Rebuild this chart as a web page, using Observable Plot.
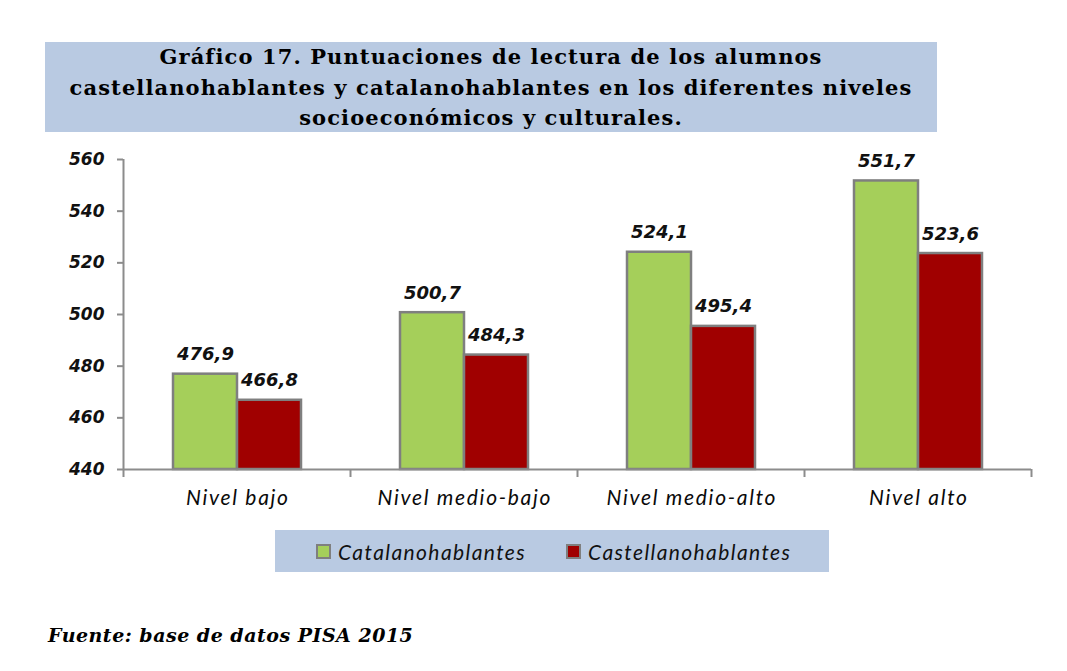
<!DOCTYPE html>
<html>
<head>
<meta charset="utf-8">
<script src="https://cdn.jsdelivr.net/npm/d3@7"></script>
<script src="https://cdn.jsdelivr.net/npm/@observablehq/plot@0.6"></script>
<style>
  html, body { margin: 0; padding: 0; background: #fff; }
  #page { position: relative; width: 1067px; height: 671px; overflow: hidden; }
  #title {
    position: absolute; left: 45px; top: 42px; width: 892px; height: 90px;
    background: #b9cae2; text-align: center;
    font-family: "DejaVu Serif", serif; font-weight: bold; font-size: 21px; letter-spacing: 1.1px; line-height: 30.5px; color: #000;
  }
  #chart { position: absolute; left: 0; top: 140px; }
  #legend {
    position: absolute; left: 275px; top: 530px; width: 554px; height: 42px;
    background: #b9cae2; display: flex; align-items: center; justify-content: flex-start;
    box-sizing: border-box; padding-left: 41px; gap: 40px;
    font-family: Lato, sans-serif; font-style: italic; font-size: 21px; letter-spacing: 1.4px; color: #111;
  }
  .item { display: flex; align-items: center; gap: 7px; }
  .sw { width: 11px; height: 11px; border: 2px solid #7f7f7f; }
  #source {
    position: absolute; left: 48px; top: 624px;
    font-family: "DejaVu Serif", serif; font-weight: bold; font-style: italic; font-size: 19px; letter-spacing: 0.5px; color: #000;
  }
</style>
</head>
<body>
<div id="page">
  <div id="title">Gráfico 17. Puntuaciones de lectura de los alumnos<br>castellanohablantes y catalanohablantes en los diferentes niveles<br>socioeconómicos y culturales.</div>
  <div id="chart"></div>
  <div id="legend"></div>
  <div id="source">Fuente: base de datos PISA 2015</div>
</div>
<script>
const categories = ["Nivel bajo", "Nivel medio-bajo", "Nivel medio-alto", "Nivel alto"];
const series = ["Catalanohablantes", "Castellanohablantes"];
const catalanValues = [476.9, 500.7, 524.1, 551.7];
const castellanoValues = [466.8, 484.3, 495.4, 523.6];
const yTicks = [440, 460, 480, 500, 520, 540, 560];
const colors = ["#a5cf5a", "#a00000"];

const rows = [];
categories.forEach((c, i) => {
  rows.push({cat: c, series: series[0], value: catalanValues[i]});
  rows.push({cat: c, series: series[1], value: castellanoValues[i]});
});
const fmt = v => d3.format(".1f")(v).replace(".", ",");

const W = 1067, H = 380, ml = 123, mr = 36, mt = 19, mb = 51;
const bw = (W - ml - mr) / categories.length;   // band width in px
const barW = 64;
const gLeft = 50;                              // offset of first bar in band
const inset = s => s === series[0]
  ? {insetLeft: gLeft, insetRight: bw - gLeft - barW}
  : {insetLeft: gLeft + barW, insetRight: bw - gLeft - 2 * barW};
const centerDx = s => (s === series[0] ? gLeft + barW / 2 : gLeft + barW * 1.5) - bw / 2;

const baseline = yTicks[0];
const marks = [];
series.forEach((s, k) => {
  const d = rows.filter(r => r.series === s);
  marks.push(Plot.rectY(d, {
    x: "cat", y1: () => baseline, y2: "value",
    fill: colors[k], stroke: "#7f7f7f", strokeWidth: 2.5, ...inset(s)
  }));
  marks.push(Plot.text(d, {
    x: "cat", y: "value", text: r => fmt(r.value), dx: centerDx(s), dy: -14,
    lineAnchor: "bottom", fontFamily: "DejaVu Sans", fontStyle: "italic", fontWeight: "bold", fontSize: 18, fill: "#111"
  }));
});

const chart = Plot.plot({
  width: W, height: H,
  marginLeft: ml, marginRight: mr, marginTop: mt, marginBottom: mb,
  x: {domain: categories, padding: 0, axis: null},
  y: {domain: [yTicks[0], yTicks[yTicks.length - 1]], axis: null},
  style: {background: "transparent", overflow: "visible"},
  marks: [
    ...marks,
    Plot.ruleY([baseline], {stroke: "#8c8c8c", strokeWidth: 2}),
    Plot.ruleX([0], {x: () => categories[0], dx: -bw / 2, y1: baseline, y2: yTicks[yTicks.length - 1], stroke: "#8c8c8c", strokeWidth: 2}),
    Plot.axisY({ticks: yTicks, tickSize: 6, tickPadding: 13, stroke: "#8c8c8c", strokeWidth: 2, label: null,
      fontFamily: "DejaVu Sans", fontStyle: "italic", fontWeight: "bold", fontSize: 17, fill: "#111", tickFormat: d => String(d)}),
    Plot.axisX({tickSize: 8, text: null, dx: -bw / 2, stroke: "#8c8c8c", strokeWidth: 2, label: null}),
    Plot.axisX([categories[categories.length - 1]], {tickSize: 8, text: null, dx: bw / 2, stroke: "#8c8c8c", strokeWidth: 2, label: null}),
    Plot.axisX({tickSize: 0, tickPadding: 21, fontFamily: "Lato", fontStyle: "italic", fontSize: 21, fill: "#0a0a0a", label: null})
  ]
});
chart.querySelectorAll('[aria-label="x-axis tick label"] text').forEach(t => {
  t.setAttribute("letter-spacing", "1.7");
  t.setAttribute("dx", "0.85");
});
document.getElementById("chart").appendChild(chart);

const legend = document.getElementById("legend");
series.forEach((s, k) => {
  const it = document.createElement("div");
  it.className = "item";
  it.innerHTML = `<span class="sw" style="background:${colors[k]}"></span><span>${s}</span>`;
  legend.appendChild(it);
});
</script>
</body>
</html>
